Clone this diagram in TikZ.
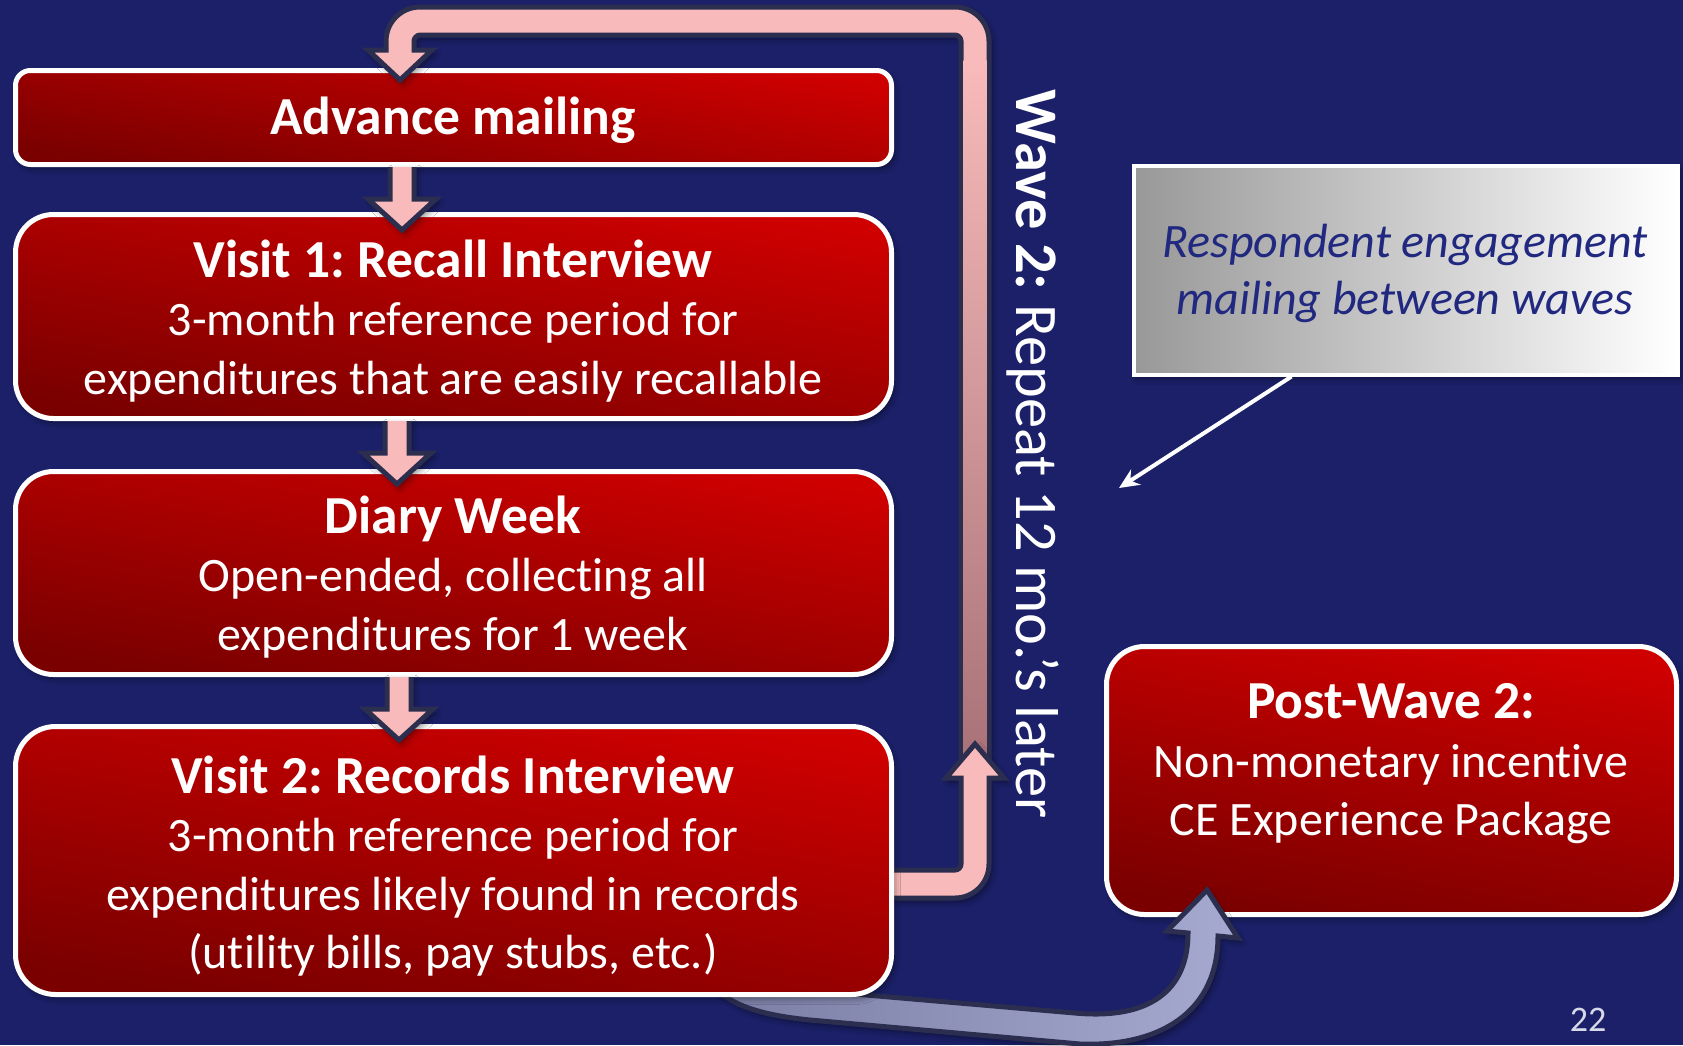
\documentclass[tikz,border=0pt]{standalone}
\usepackage{fontspec}
\setmainfont{Carlito}[Ligatures=CommonOff]
\usetikzlibrary{arrows.meta,shadows.blur}
\frenchspacing

\definecolor{navy}{RGB}{27,32,104}
\definecolor{redL}{RGB}{206,0,0}
\definecolor{redD}{RGB}{122,0,0}
\definecolor{pinkA}{RGB}{248,186,186}
\definecolor{mauve}{RGB}{168,114,120}
\definecolor{outl}{RGB}{44,46,80}
\definecolor{lavD}{RGB}{122,125,164}
\definecolor{lavL}{RGB}{166,169,208}
\definecolor{callgray}{RGB}{152,152,152}
\definecolor{calltext}{RGB}{32,40,128}
\definecolor{pagegray}{RGB}{215,217,232}

\newcommand\boxfont{\fontsize{48}{58.5}\selectfont}
\newcommand\headfont{\fontsize{53.5}{58.5}\selectfont\bfseries}
\newcommand\wavefont{\fontsize{60.5}{66}\selectfont}
\newcommand\callfont{\fontsize{48}{57}\selectfont\itshape}

\tikzset{
  softshadow/.style={blur shadow={shadow xshift=3pt, shadow yshift=-4pt,
      shadow blur radius=6pt, shadow opacity=45}},
  redbox/.style={draw=white, line width=5pt, top color=redL, bottom color=redD,
      shading angle=-10, softshadow},
  boxtext/.style={text=white, font=\boxfont, align=center, inner sep=0pt},
  blockarrow/.style={draw=outl, line width=5pt, fill=pinkA, softshadow},
  band/.style={draw=outl, line width=5pt, left color=lavD, right color=lavL, softshadow},
  callbox/.style={draw=white, line width=4pt, left color=callgray, right color=white,
      sharp corners, softshadow},
  downstep/.pic={
    \fill[pinkA, softshadow] (-12,0) -- (-12,32) -- (-34,32) -- (0,63) -- (34,32)
        -- (12,32) -- (12,0) -- cycle;
    \draw[outl, line width=5pt] (-12,0) -- (-12,32) -- (-34,32) -- (0,63) -- (34,32)
        -- (12,32) -- (12,0);
  }
}

\begin{document}
\begin{tikzpicture}[x=1pt, y=-1pt]
\useasboundingbox (0,0) rectangle (1683,1045);
\fill[navy] (0,0) rectangle (1683,1045);

% final stage box
\node[redbox, rounded corners=38pt, minimum width=570pt, minimum height=268pt]
  (post) at (1391.5,780.5) {};

% curved band from the records interview to the final stage
\path[band] (745,975) .. controls (770,985) and (790,988) .. (820,991)
  -- (1075,1013) .. controls (1150,1020) and (1188,990) .. (1188,933)
  -- (1167,931) -- (1207,890) -- (1238,938) -- (1218,936)
  .. controls (1218,1012) and (1160,1047) .. (1080,1044)
  -- (810,1020) .. controls (760,1015) and (730,1005) .. (712,985) -- cycle;

% advance mailing box
\node[redbox, rounded corners=15pt, minimum width=876pt, minimum height=94pt]
  (adv) at (453.5,117.5) {};

% wave 2 loop back to the advance mailing
\path[blockarrow] (961,760) -- (961,41) .. controls (961,37.7) and (957.7,35) .. (955,35)
  -- (420,35) .. controls (416.7,35) and (414,38.3) .. (414,41)
  -- (414,50) -- (432,50) -- (400,80) -- (368,50) -- (386,50)
  -- (386,41) .. controls (386,22.2) and (401.2,7) .. (420,7)
  -- (955,7) .. controls (973.8,7) and (989,22.2) .. (989,41)
  -- (989,760) -- cycle;
\shade[top color=pinkA, middle color=pinkA!55!mauve, bottom color=mauve]
  (963.5,60) rectangle (986.5,762);

% exit from the records interview into the loop
\path[blockarrow] (880,870) -- (955,870) .. controls (958.3,870) and (961,867.3) .. (961,864)
  -- (961,778) -- (946,778) -- (975,744) -- (1004,778) -- (989,778)
  -- (989,864) .. controls (989,882.8) and (973.8,898) .. (955,898)
  -- (880,898) -- cycle;

% interview and diary boxes
\node[redbox, rounded corners=40pt, minimum width=876pt, minimum height=268pt]
  (visit2) at (453.5,860.5) {};
\node[redbox, rounded corners=38pt, minimum width=876pt, minimum height=204pt]
  (visit1) at (453.5,316.5) {};
\node[redbox, rounded corners=38pt, minimum width=876pt, minimum height=203pt]
  (diary) at (453.5,573) {};

% step arrows between boxes
\pic (step1) at (402,167) {downstep};
\pic (step2) at (397,421) {downstep};
\pic (step3) at (399,677) {downstep};

% box texts
\node[boxtext] (advT) at (453,120) {{\headfont Advance mailing}};
\node[boxtext] (visit1T) at (453,321) {{\headfont Visit 1: Recall Interview}\\
  3-month reference period for\\ expenditures that are easily recallable};
\node[boxtext] (diaryT) at (453,577) {{\headfont Diary Week}\\
  Open-ended, collecting all\\ expenditures for 1 week};
\node[boxtext] (visit2T) at (453,866) {{\headfont Visit 2: Records Interview}\\
  3-month reference period for\\ expenditures likely found in records\\
  (utility bills, pay stubs, etc.)};
\node[boxtext] (postT) at (1391,764) {{\headfont Post-Wave 2:}\\
  Non-monetary incentive\\ CE Experience Package};

% vertical wave label
\node[text=white, font=\wavefont, rotate=-90, inner sep=0pt] (wave) at (1033,454)
  {\textbf{Wave 2:} Repeat 12 mo.’s later};

% engagement mailing callout
\node[callbox, minimum width=544pt, minimum height=209pt] (callout) at (1405.5,270) {};
\node[text=calltext, font=\callfont, align=center, inner sep=0pt] (calloutT)
  at (1405,273.5) {Respondent engagement\\ mailing between waves};
\coordinate (mailTip) at (1119,488);
\draw[white, line width=4pt, -{Stealth[length=20pt, width=18pt]}]
  ([xshift=160pt]callout.south west) -- (mailTip);

% slide number
\node[text=pagegray, font=\fontsize{36}{40}\selectfont, inner sep=0pt] (pagenum)
  at (1588,1020) {22};
\end{tikzpicture}
\end{document}
